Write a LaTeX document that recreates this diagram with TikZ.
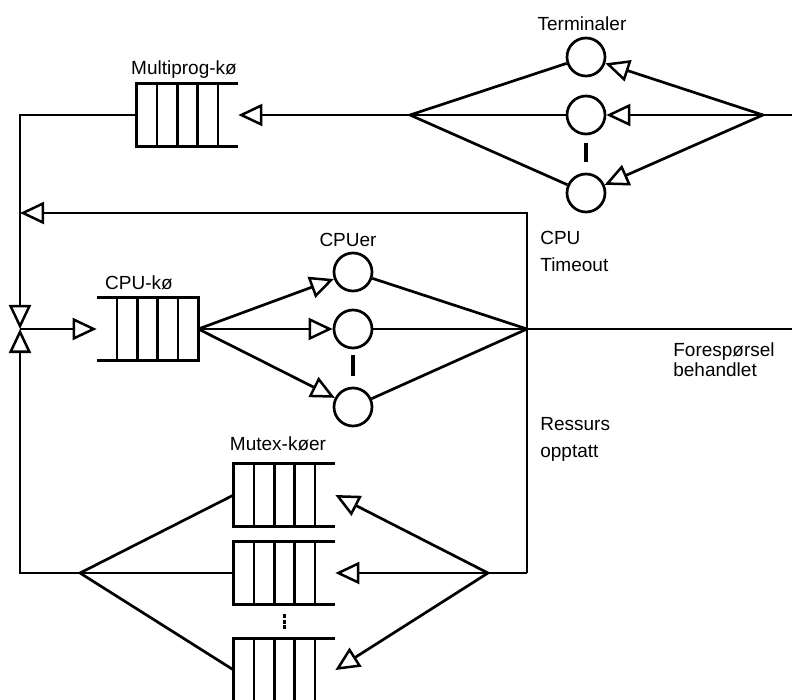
\documentclass[tikz,border=0pt]{standalone}
\usepackage{fontspec}
\setmainfont{Liberation Sans}
\usetikzlibrary{arrows.meta,calc}

% queue drawn inside a named node: closed on one side, open on the other
\newcommand\qopenright[1]{%
  \draw (#1.north east) -- (#1.north west) -- (#1.south west) -- (#1.south east);
  \foreach \f in {0.2,0.4,0.6,0.8}{%
    \draw ($(#1.north west)!\f!(#1.north east)$) -- ($(#1.south west)!\f!(#1.south east)$);}}
\newcommand\qopenleft[1]{%
  \draw (#1.north west) -- (#1.north east) -- (#1.south east) -- (#1.south west);
  \foreach \f in {0.2,0.4,0.6,0.8}{%
    \draw ($(#1.north west)!\f!(#1.north east)$) -- ($(#1.south west)!\f!(#1.south east)$);}}

\begin{document}
\begin{tikzpicture}[x=1pt,y=-1pt,line width=2.7pt,
  arr/.style={-{Triangle[open,length=24pt,width=22pt,line width=2.5pt]}},
  srv/.style={circle,draw,minimum size=38pt,inner sep=0pt},
  qbox/.style={rectangle,minimum width=99pt,minimum height=60pt,inner sep=0pt},
  lbl/.style={font=\fontsize{19}{23}\selectfont,inner sep=0pt},
  dots/.style={line width=3.2pt}]
\useasboundingbox (0,0) rectangle (792,700);

% queues
\node[qbox] (mq) at (187.5,115) {};
\node[qbox] (cq) at (147.5,329) {};
\node[qbox] (m1) at (284.5,495) {};
\node[qbox] (m2) at (284.5,573) {};
\node[qbox] (m3) at (284.5,670) {};
\qopenright{mq}
\qopenleft{cq}
\qopenright{m1}
\qopenright{m2}
\qopenright{m3}

% terminals and CPUs
\node[srv] (t1) at (586,57) {};
\node[srv] (t2) at (586,115) {};
\node[srv] (t3) at (586,193) {};
\node[srv] (c1) at (353,272) {};
\node[srv] (c2) at (353,329) {};
\node[srv] (c3) at (353,407) {};

% branch points and corners
\coordinate (tin) at (792,115);
\coordinate (tr) at (763,115);
\coordinate (tl) at (410,115);
\coordinate (lt) at (20,115);
\coordinate (tmo) at (20,213);
\coordinate (jn) at (20,329);
\coordinate (lb) at (20,573);
\coordinate (ml) at (80,573);
\coordinate (mr) at (488,573);
\coordinate (rt) at (527,213);
\coordinate (cj) at (527,329);
\coordinate (rb) at (527,573);
\coordinate (cout) at (792,329);

% terminal loop
\draw (tin) -- (tr);
\foreach \t in {t1,t2,t3}{\draw[arr] (tr) -- (\t); \draw (\t) -- (tl);}
\draw[arr] (tl) -- (mq.east);
\draw[arr] (mq.west) -- (lt) -- (jn);

% CPU stage
\draw[arr] (jn) -- (cq.west);
\foreach \c in {c1,c2,c3}{\draw[arr] (cq.east) -- (\c); \draw (\c) -- (cj);}
\draw (cj) -- (cout);
\draw[arr] (rb) -- (rt) -- (tmo);

% mutex queues
\draw (rb) -- (mr);
\foreach \m in {m1,m2,m3}{\draw[arr] (mr) -- (\m.east); \draw (\m.west) -- (ml);}
\draw[arr] (ml) -- (lb) -- (jn);

% "more of the same" marks
\draw[dots] ($(t2.south)+(0,8)$) -- ($(t3.north)+(0,-11)$);
\draw[dots] ($(c2.south)+(0,6)$) -- ($(c3.north)+(0,-11)$);
\draw[dots,dash pattern=on 4pt off 1.5pt] ($(m2.south)+(0,10)$) -- ($(m3.north)+(0,-9)$);

% labels
\node[lbl,anchor=base] (lterm) at (582,31) {Terminaler};
\node[lbl,anchor=base] (lmq) at (184,75) {Multiprog-kø};
\node[lbl,anchor=base] (lcq) at (139,290) {CPU-kø};
\node[lbl,anchor=base] (lcpu) at (348,247) {CPUer};
\node[lbl,anchor=base] (lmx) at (278,450) {Mutex-køer};
\node[lbl,anchor=base west] (lto1) at (539,245) {CPU};
\node[lbl,anchor=base west] (lto2) at (539,272) {Timeout};
\node[lbl,anchor=base west] (lfb1) at (672,356) {Forespørsel};
\node[lbl,anchor=base west] (lfb2) at (672,377) {behandlet};
\node[lbl,anchor=base west] (lro1) at (539,430) {Ressurs};
\node[lbl,anchor=base west] (lro2) at (539,457) {opptatt};
\end{tikzpicture}
\end{document}
